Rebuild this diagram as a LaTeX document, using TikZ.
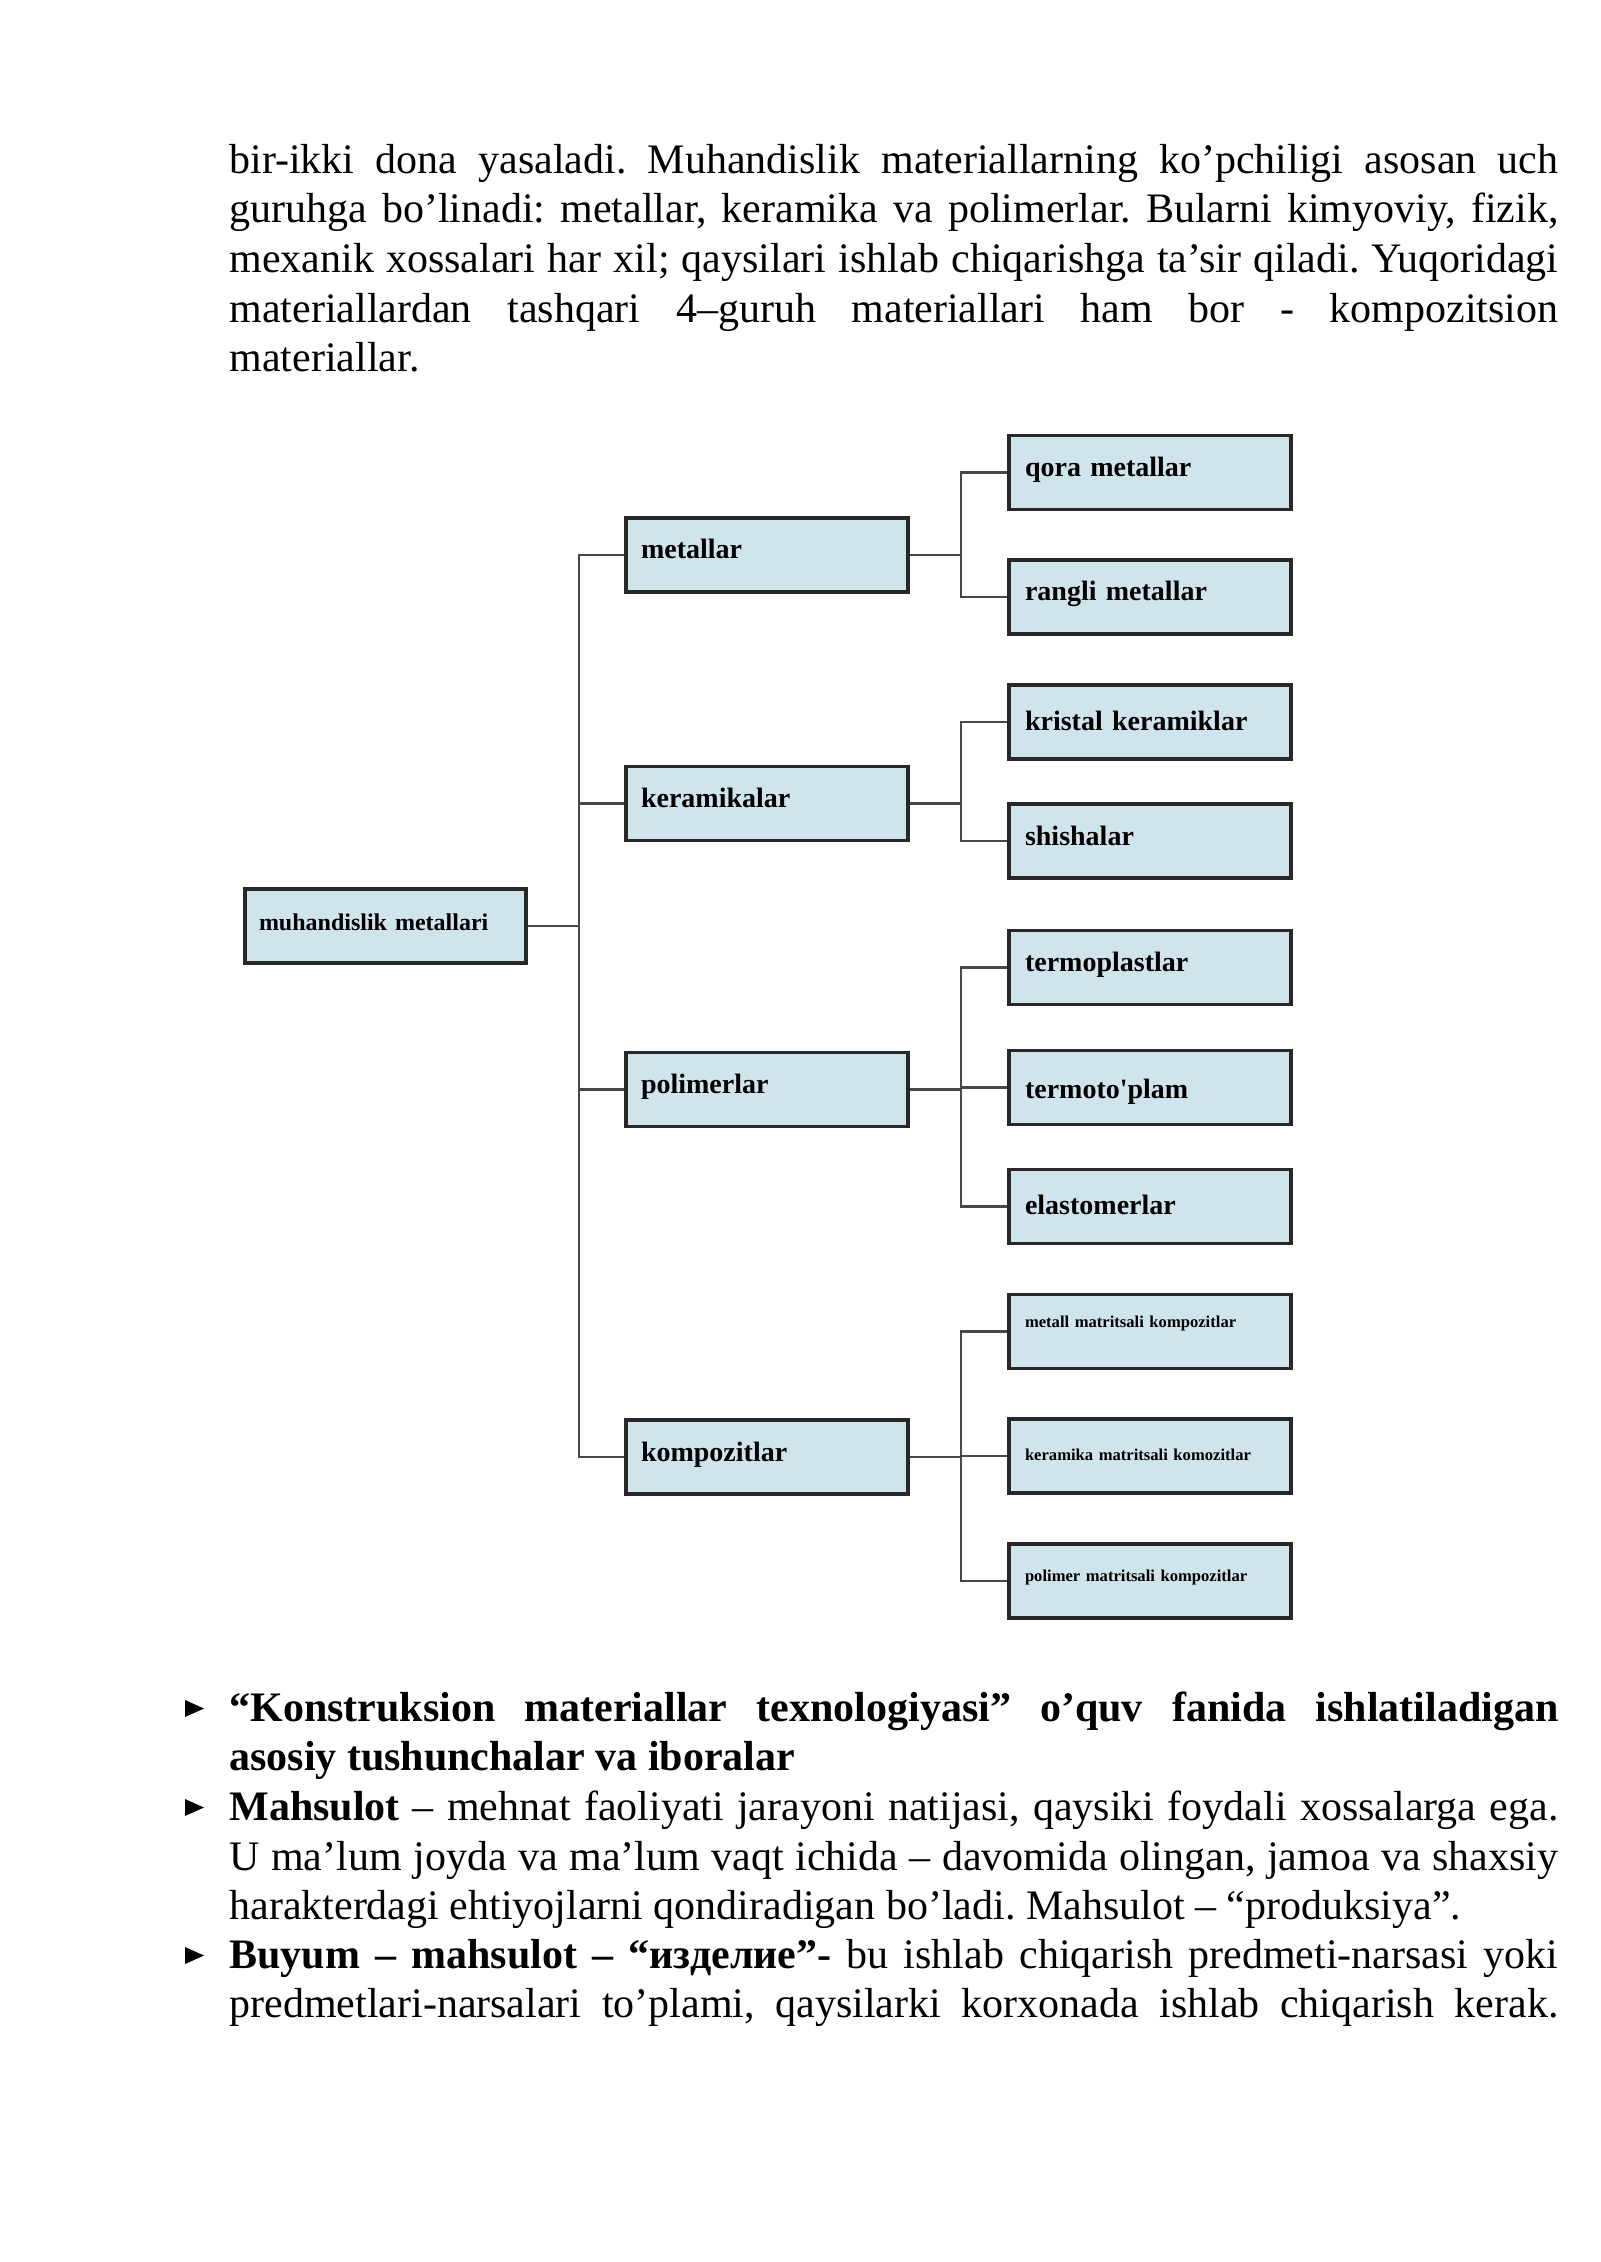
\documentclass[tikz,border=0pt]{standalone}
\usepackage{fontspec}
\setmainfont{Liberation Serif}
\frenchspacing
\definecolor{boxfill}{RGB}{208,228,236}
\definecolor{boxline}{RGB}{40,40,40}
\definecolor{wire}{RGB}{72,72,72}
\tikzset{
  catbox/.style={draw=boxline, line width=1.75pt, fill=boxfill, inner ysep=0pt,
    minimum height=37pt, align=left, text height=0.66em, text depth=0.26em},
  rootbox/.style={catbox, inner xsep=7pt, text width=126.5pt, font=\fontsize{12}{14}\selectfont\bfseries},
  midbox/.style={catbox, inner xsep=7.5pt, text width=126pt, font=\fontsize{14}{16}\selectfont\bfseries},
  leafbox/.style={catbox, inner xsep=8pt, text width=125pt, font=\fontsize{14}{16}\selectfont\bfseries},
  smallbox/.style={catbox, inner xsep=8pt, text width=125pt, font=\fontsize{8.3}{10}\selectfont\bfseries},
  lowertext/.style={text height=0.66em+#1},
  raisetext/.style={text depth=0.26em+#1},
  wireline/.style={draw=wire, line width=1.1pt},
  bodyline/.style={anchor=base west, inner sep=0pt, font=\fontsize{21}{24.7}\selectfont},
}
\newcommand{\jline}[1]{\makebox[664.5pt][s]{#1}}
\begin{document}
\begin{tikzpicture}[x=0.5pt, y=-0.5pt]
\useasboundingbox (0,0) rectangle (1600,2262);
\fill[white] (0,0) rectangle (1600,2262);

% top paragraph
\node[bodyline] (a1) at (229,174) {\jline{bir-ikki dona yasaladi. Muhandislik materiallarning ko’pchiligi asosan uch}};
\node[bodyline] (a2) at (229,223) {\jline{guruhga bo’linadi: metallar, keramika va polimerlar. Bularni kimyoviy, fizik,}};
\node[bodyline] (a3) at (229,273) {\jline{mexanik xossalari har xil; qaysilari ishlab chiqarishga ta’sir qiladi. Yuqoridagi}};
\node[bodyline] (a4) at (229,323) {\jline{materiallardan tashqari 4–guruh materiallari ham bor - kompozitsion}};
\node[bodyline] (a5) at (229,372) {materiallar.};

% diagram
\node[rootbox] (root) at (385.5,926) {muhandislik metallari};
\node[midbox] (met) at (767,555) {metallar};
\node[midbox] (ker) at (767,803.5) {keramikalar};
\node[midbox] (pol) at (767,1089.5) {polimerlar};
\node[midbox] (kom) at (767,1457) {kompozitlar};

\node[leafbox] (qora) at (1150,472.5) {qora metallar};
\node[leafbox] (rang) at (1150,597) {rangli metallar};
\node[leafbox, lowertext=4pt] (kris) at (1150,722) {kristal keramiklar};
\node[leafbox] (shis) at (1150,841) {shishalar};
\node[leafbox] (tpl) at (1150,967.5) {termoplastlar};
\node[leafbox, lowertext=7pt] (tto) at (1150,1087.5) {termoto\textquotesingle plam};
\node[leafbox, lowertext=4pt] (ela) at (1150,1206.5) {elastomerlar};
\node[smallbox, raisetext=8pt] (mmk) at (1150,1331.5) {metall matritsali kompozitlar};
\node[smallbox] (kmk) at (1150,1456) {keramika matritsali komozitlar};
\node[smallbox, raisetext=4pt] (pmk) at (1150,1581) {polimer matritsali kompozitlar};

\foreach \m in {met,ker,pol,kom}
  \draw[wireline] (root.east) -- ++(51,0) |- (\m.west);
\foreach \c in {qora,rang}
  \draw[wireline] (met.east) -- ++(51,0) |- (\c.west);
\foreach \c in {kris,shis}
  \draw[wireline] (ker.east) -- ++(51,0) |- (\c.west);
\foreach \c in {tpl,tto,ela}
  \draw[wireline] (pol.east) -- ++(51,0) |- (\c.west);
\foreach \c in {mmk,kmk,pmk}
  \draw[wireline] (kom.east) -- ++(51,0) |- (\c.west);

% bottom list
\fill[black] (185,1700) -- (204,1708.5) -- (185,1717) -- cycle;
\fill[black] (185,1799) -- (204,1807.5) -- (185,1816) -- cycle;
\fill[black] (185,1947) -- (204,1955.5) -- (185,1964) -- cycle;
\node[bodyline] (b1) at (229,1721) {\jline{\bfseries “Konstruksion materiallar texnologiyasi” o’quv fanida ishlatiladigan}};
\node[bodyline] (b2) at (229,1770) {\bfseries asosiy tushunchalar va iboralar};
\node[bodyline] (b3) at (229,1820) {\jline{\textbf{Mahsulot} – mehnat faoliyati jarayoni natijasi, qaysiki foydali xossalarga ega.}};
\node[bodyline] (b4) at (229,1870) {\jline{U ma’lum joyda va ma’lum vaqt ichida – davomida olingan, jamoa va shaxsiy}};
\node[bodyline] (b5) at (229,1919) {harakterdagi ehtiyojlarni qondiradigan bo’ladi. Mahsulot – “produksiya”.};
\node[bodyline] (b6) at (229,1968) {\jline{\textbf{Buyum – mahsulot – “изделие”-} bu ishlab chiqarish predmeti-narsasi yoki}};
\node[bodyline] (b7) at (229,2017) {\jline{predmetlari-narsalari to’plami, qaysilarki korxonada ishlab chiqarish kerak.}};
\end{tikzpicture}
\end{document}
